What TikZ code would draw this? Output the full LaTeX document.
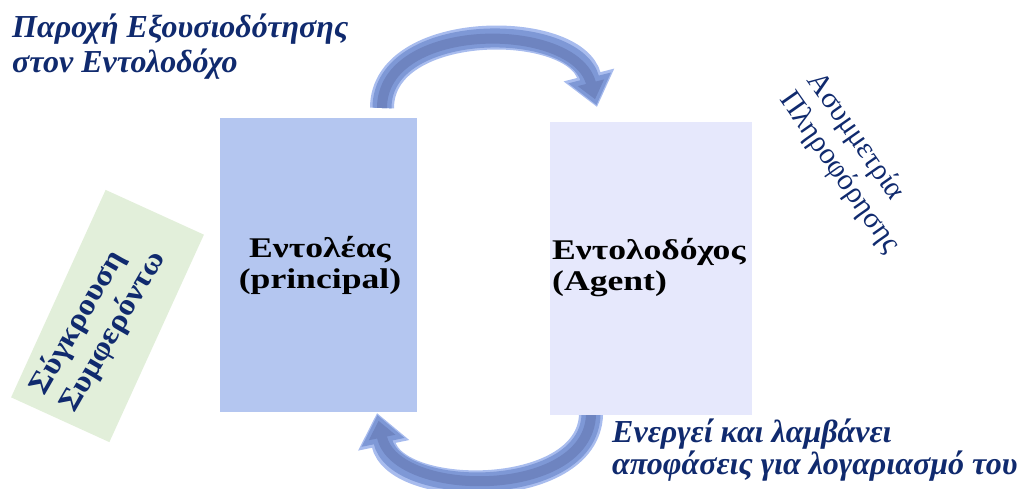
\documentclass[tikz,border=0pt]{standalone}
\usepackage{fontspec}
\setmainfont{Liberation Serif}
\newfontfamily\boxfont[FakeStretch=1.25]{Liberation Serif}
\newfontfamily\cardfont[FakeStretch=1.1]{Liberation Serif}
\usetikzlibrary{arrows.meta}

\definecolor{navy}{RGB}{16,42,110}
\definecolor{principalfill}{RGB}{180,198,240}
\definecolor{agentfill}{RGB}{230,232,252}
\definecolor{conflictfill}{RGB}{226,239,218}
\definecolor{arrowhalo}{RGB}{168,188,238}
\definecolor{arrowbody}{RGB}{126,152,214}
\definecolor{arrowcore}{RGB}{110,132,192}

\begin{document}
\begin{tikzpicture}[x=1pt,y=-1pt,
  partybox/.style={draw=none, inner sep=0pt},
  partytext/.style={font=\boxfont\fontsize{28.5}{31}\selectfont\bfseries, text=black, inner sep=0pt},
  caption/.style={text=navy, inner sep=0pt, align=left, anchor=base west},
  haloline/.style={line width=24pt, arrowhalo, -{Triangle[width=50pt,length=33pt]}},
  bodyline/.style={line width=19pt, arrowbody, shorten >=2pt, -{Triangle[width=42pt,length=28pt]}},
  coreline/.style={line width=10pt, arrowcore, shorten >=8pt, -{Triangle[width=26pt,length=17pt]}},
]
\useasboundingbox (0,0) rectangle (1019,488);

% end points of the two curved arrows
\coordinate (topTail) at (382,108);
\coordinate (topTip) at (597,107);
\coordinate (botTail) at (591,410);
\coordinate (botTip) at (377,413);

% upper arrow: principal -> agent
\foreach \sty in {haloline,bodyline,coreline}
  \draw[\sty] (topTail) .. controls (382,20) and (575,20) .. (topTip);
% lower arrow: agent -> principal
\foreach \sty in {haloline,bodyline,coreline}
  \draw[\sty] (botTail) .. controls (595,500) and (395,500) .. (botTip);

% the two parties
\node[partybox, fill=principalfill, minimum width=197pt, minimum height=294pt] (principal) at (318.5,265) {};
\node[partybox, fill=agentfill, minimum width=202pt, minimum height=293pt] (agent) at (651,268.5) {};

\node[partytext, align=center, anchor=base] (principalLabel) at (320,288) {Εντολέας\\(principal)};
\node[partytext, align=left, anchor=base west] (agentLabel) at (552,290) {Εντολοδόχος\\(Agent)};

% conflict of interest, tilted green card
\node[partybox, fill=conflictfill, minimum width=228pt, minimum height=108pt, rotate=65.5] (conflict) at (107.5,316) {};
\node[font=\cardfont\fontsize{30}{35}\selectfont\bfseries, text=navy, align=left, rotate=60, inner sep=0pt] (conflictLabel) at (98,323) {Σύγκρουση\\Συμφερόντω};

% information asymmetry, tilted text
\node[font=\fontsize{30}{34}\selectfont, text=navy, align=left, rotate=-55, inner sep=0pt] (asymmetry) at (853,163) {Ασυμμετρία\\Πληροφόρησης};

% captions of the two arrows
\node[caption, font=\fontsize{32}{35}\selectfont\bfseries\itshape] (authority) at (12,72) {Παροχή Εξουσιοδότησης\\στον Εντολοδόχο};
\node[caption, font=\fontsize{32}{29}\selectfont\bfseries\itshape] (acts) at (612,474) {Ενεργεί και λαμβάνει\\αποφάσεις για λογαριασμό του};
\end{tikzpicture}
\end{document}
